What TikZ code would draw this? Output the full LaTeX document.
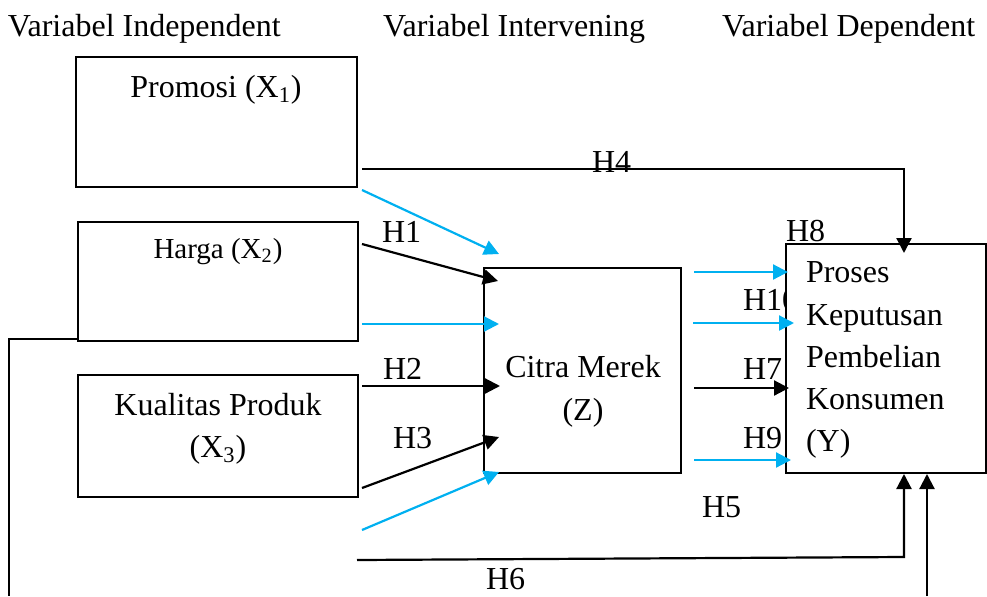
\documentclass[tikz,border=0pt]{standalone}
\usepackage{fontspec}
\setmainfont{Liberation Serif}
\usetikzlibrary{arrows.meta}
\definecolor{cyanline}{RGB}{0,176,240}
\begin{document}
\begin{tikzpicture}[x=0.5pt,y=-0.5pt,
  every node/.style={inner sep=0pt,outer sep=0pt},
  txt/.style={font=\fontsize{16}{19}\selectfont,anchor=base},
  txtw/.style={font=\fontsize{16}{19}\selectfont,anchor=base west},
  box/.style={draw,line width=1pt,fill=white,inner sep=0pt,outer sep=0pt},
  blk/.style={line width=1.1pt,-{Triangle[length=7.5pt,width=7.5pt]}},
  blu/.style={line width=1.1pt,draw=cyanline,-{Triangle[length=7.5pt,width=7.5pt]},cyanline},
  plain/.style={line width=1.1pt}]
\useasboundingbox (0,0) rectangle (987,596);

% headers
\node[txtw] (h1) at (8,36) {Variabel Independent};
\node[txtw] (h2) at (383,36) {Variabel Intervening};
\node[txtw] (h3) at (722,36) {Variabel Dependent};

% boxes
\node[box,minimum width=140.5pt,minimum height=65pt] (px) at (216.5,122) {};
\node[box,minimum width=140pt,minimum height=59.5pt] (hx) at (218,281.5) {};
\node[box,minimum width=140pt,minimum height=61pt] (kx) at (218,436) {};
\node[box,minimum width=98.5pt,minimum height=102.5pt] (cz) at (582.5,370.5) {};

% box texts
\node[txt] (tp) at (216,97) {Promosi (X\textsubscript{1})};
\node[txt,font=\fontsize{14.5}{17}\selectfont] (th) at (218,258) {Harga (X\textsubscript{2})};
\node[txt] (tk1) at (218,415) {Kualitas Produk};
\node[txt] (tk2) at (218,457) {(X\textsubscript{3})};
\node[txt] (tc1) at (583,377) {Citra Merek};
\node[txt] (tc2) at (583,420) {(Z)};

% connector end points
\coordinate (p4s) at (362,169);
\coordinate (p4c) at (904,169);
\coordinate (p4e) at (904,253);
\coordinate (bps) at (362,190);
\coordinate (bpe) at (499,254);
\coordinate (h1s) at (362,244);
\coordinate (h1e) at (498,281);
\coordinate (bhs) at (362,324);
\coordinate (bhe) at (499,324);
\coordinate (h2s) at (362,386);
\coordinate (h2e) at (500,386);
\coordinate (h3s) at (362,488);
\coordinate (h3e) at (499,437);
\coordinate (bks) at (362,530);
\coordinate (bke) at (499,472);
\coordinate (h6s) at (357,560);
\coordinate (h6c) at (904,557);
\coordinate (h6e) at (904,474);
\coordinate (lls) at (78,339);
\coordinate (llc) at (9,339);
\coordinate (lle) at (9,596);
\coordinate (lrs) at (927,596);
\coordinate (lre) at (927,474);
\coordinate (r1s) at (694,272);
\coordinate (r1e) at (788,272);
\coordinate (r2s) at (693,323);
\coordinate (r2e) at (794,323);
\coordinate (r3s) at (694,388);
\coordinate (r3e) at (789,388);
\coordinate (r4s) at (694,460);
\coordinate (r4e) at (791,460);

% labels
\node[txtw] (lH1) at (382,242) {H1};
\node[txtw] (lH2) at (383,379) {H2};
\node[txtw] (lH3) at (393,448) {H3};
\node[txtw] (lH8) at (786,241) {H8};
\node[txtw] (lH10) at (743,310) {H10};
\node[txtw] (lH7) at (743,379) {H7};
\node[txtw] (lH9) at (743,448) {H9};
\node[txtw] (lH5) at (702,517) {H5};
\node[txtw] (lH6) at (486,589) {H6};

% Y box (covers part of H10)
\node[box,minimum width=100pt,minimum height=114.5pt] (yb) at (886,358.5) {};
\node[txtw] (ty1) at (806,282) {Proses};
\node[txtw] (ty2) at (806,325) {Keputusan};
\node[txtw] (ty3) at (806,367) {Pembelian};
\node[txtw] (ty4) at (806,409) {Konsumen};
\node[txtw] (ty5) at (806,451) {(Y)};

% connectors
\draw[blk] (p4s) -- (p4c) -- (p4e);
\node[txtw] (lH4) at (592,172) {H4};
\draw[blu] (bps) -- (bpe);
\draw[blk] (h1s) -- (h1e);
\draw[blu] (bhs) -- (bhe);
\draw[blk] (h2s) -- (h2e);
\draw[blk] (h3s) -- (h3e);
\draw[blu] (bks) -- (bke);
\draw[blk] (h6s) -- (h6c) -- (h6e);
\draw[plain] (lls) -- (llc) -- (lle);
\draw[blk] (lrs) -- (lre);
\draw[blu] (r1s) -- (r1e);
\draw[blu] (r2s) -- (r2e);
\draw[blk] (r3s) -- (r3e);
\draw[blu] (r4s) -- (r4e);
\end{tikzpicture}
\end{document}
